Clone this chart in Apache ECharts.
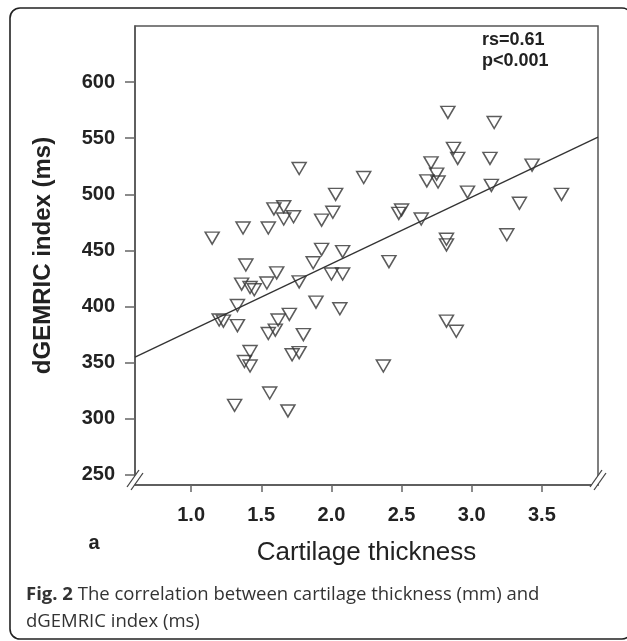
<!DOCTYPE html>
<html><head><meta charset="utf-8">
<script src="https://cdn.jsdelivr.net/npm/echarts@6/dist/echarts.min.js"></script>
<style>html,body{margin:0;padding:0;background:#fff}#c{width:627px;height:641px}</style>
</head><body><div id="c"></div>
<script>
// Cartilage thickness (mm)
const thickness = [1.77,2.03,2.01,1.93,1.59,1.66,1.66,1.73,1.37,1.55,1.15,1.93,2.08,
  2.83,3.16,2.87,2.90,3.13,2.71,2.75,2.68,2.76,3.43,3.14,2.97,3.64,2.23,3.34,2.50,2.48,2.64,2.82,2.82,3.25,
  1.39,1.36,1.42,1.45,1.54,1.61,1.77,1.87,2.00,2.08,1.33,1.20,1.23,1.33,1.70,1.62,1.60,1.55,1.89,2.06,1.80,
  1.42,1.38,1.42,1.72,1.77,1.56,1.31,1.69,
  2.41,2.82,2.89,2.37];
// dGEMRIC index (ms)
const dgemric = [523,500,484,477,487,489,478,480,470,470,461,451,449,
  573,564,541,532,532,528,518,512,511,526,508,502,500,515,492,486,483,478,460,455,464,
  437,420,417,415,421,430,422,439,429,429,401,388,387,383,393,388,379,376,404,398,375,
  360,351,347,357,359,323,312,307,
  440,387,378,347];
const xTicks = [1.0,1.5,2.0,2.5,3.0,3.5];
const yTicks = [250,300,350,400,450,500,550,600];
const fitX = [0.6, 3.9];
const fitY = [355, 551];
const statLines = ['rs=0.61', 'p<0.001'];
const xTitle = 'Cartilage thickness';
const yTitle = 'dGEMRIC index (ms)';
const panelLabel = 'a';
const captionBold = 'Fig. 2';
const captionLine1 = ' The correlation between cartilage thickness (mm) and';
const captionLine2 = 'dGEMRIC index (ms)';

const X_MIN = 0.6, X_MAX = 3.9, Y_MIN = 241, Y_MAX = 650;
const axisColor = '#555';
const labelFont = 'Liberation Sans, Arial, sans-serif';
const capFont = '18.5px "Open Sans", sans-serif';

const chart = echarts.init(document.getElementById('c'), null, {renderer: 'canvas'});
const pts = thickness.map((x, i) => [x, dgemric[i]]);
const fit = fitX.map((x, i) => [x, fitY[i]]);

chart.setOption({
  animation: false,
  backgroundColor: '#fff',
  grid: {left: 135, right: 29, top: 26, bottom: 156, show: true, borderColor: axisColor, borderWidth: 1.5, backgroundColor: 'transparent'},
  xAxis: {
    type: 'value', min: X_MIN, max: X_MAX,
    splitLine: {show: false},
    axisLine: {show: true, onZero: false, lineStyle: {color: axisColor, width: 1.5}},
    axisTick: {show: true, customValues: xTicks, length: 7, lineStyle: {color: '#666', width: 1.5}},
    axisLabel: {customValues: xTicks, formatter: v => v.toFixed(1), fontFamily: labelFont, fontWeight: 'bold', fontSize: 20, color: '#222', margin: 20},
    name: xTitle, nameLocation: 'middle', nameGap: 55,
    nameTextStyle: {fontFamily: labelFont, fontSize: 26, color: '#222'}
  },
  yAxis: {
    type: 'value', min: Y_MIN, max: Y_MAX,
    splitLine: {show: false},
    axisLine: {show: true, onZero: false, lineStyle: {color: axisColor, width: 1.5}},
    axisTick: {show: true, customValues: yTicks, length: 10, lineStyle: {color: '#666', width: 1.5}},
    axisLabel: {customValues: yTicks, fontFamily: labelFont, fontWeight: 'bold', fontSize: 20, color: '#222', margin: 20},
    name: yTitle, nameLocation: 'middle', nameGap: 80,
    nameTextStyle: {fontFamily: labelFont, fontWeight: 'bold', fontSize: 24, color: '#222'}
  },
  series: [
    {type: 'line', data: fit, symbol: 'none', lineStyle: {color: '#333', width: 1.3}, z: 2},
    {type: 'scatter', data: pts, symbol: 'triangle', symbolRotate: 180, symbolSize: [14, 12],
     itemStyle: {color: 'rgba(0,0,0,0)', borderColor: '#333', borderWidth: 1.5}, z: 3}
  ]
});

// decorations positioned from the axes
const bl = chart.convertToPixel({gridIndex: 0}, [X_MIN, Y_MIN]);
const br = chart.convertToPixel({gridIndex: 0}, [X_MAX, Y_MIN]);
function breakMark(c) {
  const [cx, cy] = c;
  return [
    {type: 'polygon', shape: {points: [[cx-8, cy+2], [cx+4, cy-15], [cx+8, cy-12], [cx-4, cy+5]]}, style: {fill: '#fff'}, z: 10},
    {type: 'line', shape: {x1: cx-8, y1: cy+2, x2: cx+4, y2: cy-15}, style: {stroke: '#444', lineWidth: 1.3}, z: 11},
    {type: 'line', shape: {x1: cx-4, y1: cy+5, x2: cx+8, y2: cy-12}, style: {stroke: '#444', lineWidth: 1.3}, z: 11}
  ];
}
chart.setOption({
  graphic: [
    {type: 'rect', shape: {x: 10, y: 8, width: 622, height: 631, r: 10}, style: {fill: 'none', stroke: '#222', lineWidth: 1.6}, z: 1, silent: true},
    ...breakMark(bl), ...breakMark(br),
    {type: 'text', x: 482, y: 40, style: {text: statLines[0], font: 'bold 18px ' + labelFont, fill: '#222', verticalAlign: 'middle'}, z: 12},
    {type: 'text', x: 482, y: 61.5, style: {text: statLines[1], font: 'bold 18px ' + labelFont, fill: '#222', verticalAlign: 'middle'}, z: 12},
    {type: 'text', x: 94, y: 543, style: {text: panelLabel, font: 'bold 20px ' + labelFont, fill: '#222', align: 'center', verticalAlign: 'middle'}, z: 12},
    {type: 'text', x: 26, y: 595, style: {
      text: '{b|' + captionBold + '}{n|' + captionLine1 + '}',
      verticalAlign: 'middle',
      rich: {
        b: {font: 'bold ' + capFont, fill: '#333', fontWeight: 'bold', fontSize: 18.5, fontFamily: 'Open Sans'},
        n: {font: capFont, fill: '#333', fontSize: 18.5, fontFamily: 'Open Sans'}
      }
    }, z: 12},
    {type: 'text', x: 26, y: 621.5, style: {text: captionLine2, font: capFont, fill: '#333', verticalAlign: 'middle'}, z: 12}
  ]
});
</script></body></html>
